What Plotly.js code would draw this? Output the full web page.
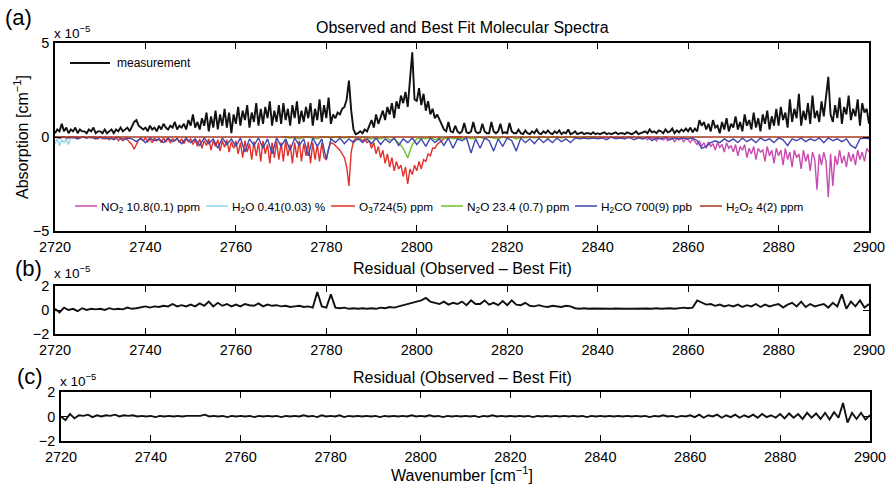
<!DOCTYPE html>
<html>
<head>
<meta charset="utf-8">
<script src="https://cdn.plot.ly/plotly-3.0.1.min.js"></script>
<style>html,body{margin:0;padding:0;background:#fff;}#chart{width:888px;height:486px;}</style>
</head>
<body>
<div id="chart"></div>
<script>
// ---- DATA (absorption in units of 1e-5 cm^-1) ----
const measStart = 2720, measStep = 0.5;
const measurement = [
 0.2,0.4,0.3,0.7,0.3,0.5,0.2,0.4,0.3,0.5,0.2,0.4,0.3,0.3,0.2,0.4,0.3,0.5,0.2,0.3,
 0.3,0.2,0.4,0.2,0.3,0.4,0.2,0.4,0.3,0.5,0.3,0.4,0.5,0.3,0.6,0.8,0.9,0.6,0.5,0.4,
 0.5,0.3,0.6,0.4,0.5,0.3,0.6,0.4,0.7,0.5,0.4,0.6,0.5,0.8,0.4,0.6,0.5,0.7,0.4,0.9,
 0.6,1.2,0.5,0.8,0.4,1.0,0.6,1.3,0.3,1.1,0.5,1.4,0.4,1.2,0.6,1.5,0.5,1.3,0.2,1.2,
 0.7,1.6,0.6,1.4,0.9,1.7,0.5,1.3,0.8,1.8,0.6,1.5,0.7,1.6,1.0,1.9,0.6,1.4,0.8,1.7,
 0.7,1.8,0.9,1.5,0.6,1.7,1.0,1.9,0.7,1.4,0.8,1.6,1.0,1.8,0.6,1.5,0.9,2.0,0.8,1.7,
 1.0,2.1,0.7,1.2,1.0,1.3,1.2,1.5,1.6,2.0,3.0,1.4,0.4,0.15,0.2,0.3,0.2,0.4,0.3,0.6,
 0.9,0.5,1.2,0.7,1.0,1.4,0.9,1.6,1.2,1.8,1.0,1.9,1.5,2.2,1.8,2.4,1.6,2.9,4.5,2.0,
 1.9,2.6,1.7,2.3,1.4,1.9,1.2,1.5,1.0,1.2,0.9,0.7,0.4,0.3,0.8,0.3,0.25,0.6,0.3,0.2,
 0.3,0.75,0.25,0.2,0.3,0.8,0.3,0.2,0.25,0.7,0.3,0.2,0.2,0.8,0.3,0.2,0.3,0.7,0.2,0.25,
 0.2,0.75,0.3,0.2,0.2,0.4,0.2,0.15,0.35,0.2,0.15,0.3,0.2,0.4,0.2,0.15,0.3,0.2,0.35,0.2,
 0.15,0.3,0.2,0.35,0.15,0.25,0.2,0.4,0.15,0.2,0.3,0.15,0.2,0.25,0.15,0.2,0.2,0.15,0.25,0.15,
 0.2,0.15,0.2,0.25,0.15,0.2,0.15,0.2,0.25,0.15,0.2,0.2,0.15,0.25,0.2,0.15,0.2,0.3,0.15,0.2,
 0.25,0.3,0.2,0.4,0.25,0.3,0.2,0.35,0.3,0.2,0.4,0.25,0.3,0.45,0.2,0.35,0.25,0.4,0.3,0.45,
 0.3,0.5,0.25,0.45,0.3,0.9,0.6,0.8,0.4,0.7,0.3,0.9,0.5,0.6,0.2,0.8,0.4,1.0,0.3,0.7,
 0.5,1.1,0.4,0.8,0.3,1.2,0.6,0.9,0.4,1.3,0.5,1.0,0.3,1.2,0.7,1.4,0.4,1.1,0.6,1.5,
 0.6,1.6,0.9,1.3,0.5,2.0,0.8,1.5,1.0,2.3,0.6,1.4,0.9,1.8,0.7,2.2,1.0,1.4,0.8,1.9,
 1.1,2.0,3.2,1.2,0.8,1.7,1.0,2.1,0.7,1.6,1.2,2.2,0.9,1.5,1.1,2.0,0.6,1.8,1.3,1.5,
 0.7
];
const no2Start = 2840, no2Step = 0.5;
const no2 = [
 -0.05,0,-0.05,0,-0.05,-0.05,0,-0.05,0,-0.05,-0.05,0,-0.1,0,-0.05,-0.05,0,-0.1,0,-0.05,
 -0.1,-0.05,-0.15,0,-0.1,-0.05,-0.2,-0.05,-0.1,-0.15,-0.05,-0.2,-0.1,-0.05,-0.25,-0.1,-0.15,-0.05,-0.25,-0.1,
 -0.15,-0.3,-0.1,-0.25,-0.4,-0.2,-0.5,-0.3,-0.6,-0.25,-0.5,-0.35,-0.7,-0.3,-0.55,-0.4,-0.8,-0.3,-0.6,-0.45,
 -0.8,-0.4,-1.0,-0.5,-0.7,-0.4,-1.1,-0.6,-0.9,-0.5,-1.2,-0.6,-0.8,-0.7,-1.3,-0.5,-1.0,-0.7,-1.4,-0.6,
 -1.0,-0.7,-1.5,-0.6,-1.2,-0.8,-1.6,-0.7,-1.1,-0.9,-1.7,-0.7,-1.3,-0.9,-1.8,-0.8,-1.2,-2.8,-0.9,-1.5,
 -0.8,-1.3,-3.2,-0.9,-2.6,-1.0,-1.5,-0.7,-1.4,-1.0,-1.6,-0.8,-1.3,-0.9,-1.5,-0.7,-1.2,-0.8,-1.3,-0.6,
 -0.8
];
const h2oStart = 2720, h2oStep = 0.5;
const h2o = [-0.35,-0.1,-0.45,-0.15,-0.3,-0.1,-0.4,-0.05,0];
const o3Start = 2720, o3Step = 0.5;
const o3 = [
 0,0,-0.05,0,0,-0.05,0,0,-0.05,0,0,-0.05,0,0,-0.05,0,-0.05,0,0,-0.1,
 0,-0.1,0,-0.05,-0.15,0,-0.1,0,-0.2,-0.05,-0.1,-0.05,-0.15,-0.25,-0.4,-0.65,-0.35,-0.15,-0.1,-0.2,
 -0.05,-0.25,-0.1,-0.3,-0.05,-0.2,-0.1,-0.3,-0.05,-0.25,-0.1,-0.3,-0.1,-0.2,-0.05,-0.3,-0.1,-0.35,-0.1,-0.25,
 -0.1,-0.4,-0.15,-0.5,-0.1,-0.6,-0.2,-0.45,-0.1,-0.7,-0.2,-0.5,-0.15,-0.75,-0.2,-0.55,-0.15,-0.8,-0.25,-0.6,
 -0.2,-0.9,-0.3,-1.1,-0.2,-0.8,-0.35,-1.2,-0.25,-1.0,-0.3,-1.3,-0.2,-0.9,-0.4,-1.4,-0.3,-1.1,-0.25,-1.2,
 -0.3,-1.3,-0.2,-1.0,-0.4,-1.4,-0.3,-1.1,-0.2,-1.3,-0.35,-1.0,-0.25,-1.4,-0.3,-1.2,-0.4,-1.3,-0.3,-1.1,
 -1.2,-0.6,-0.3,-0.35,-0.45,-0.55,-0.7,-0.9,-1.1,-1.6,-2.6,-0.8,-0.2,-0.1,-0.15,-0.1,-0.2,-0.1,-0.3,-0.2,
 -0.6,-0.3,-0.9,-0.5,-1.1,-0.7,-1.4,-0.9,-1.6,-1.1,-1.8,-1.3,-1.7,-1.5,-2.1,-1.6,-2.5,-1.7,-2.0,-1.5,
 -1.8,-1.3,-1.7,-1.2,-1.3,-0.9,-1.0,-0.6,-0.6,-0.4,-0.3,-0.15,-0.1,-0.05,-0.05,0,0,0,0,0,
 0
];
const n2oStart = 2770, n2oStep = 1;
const n2o = [
 0,0,-0.05,0,-0.1,0,0,-0.05,-0.1,0,
 0,-0.05,0,0,-0.05,0,0,-0.1,0,-0.05,
 -0.1,-0.05,-0.1,0,-0.15,-0.1,-0.3,-0.6,-1.1,-0.4,
 -0.1,-0.05,-0.1,0,-0.15,-0.05,-0.1,0,-0.1,-0.05,
 -0.1,0,-0.1,-0.05,0,-0.1,0,-0.05,-0.1,0,
 -0.05,0,-0.1,0,-0.05,0,-0.05,0,0,-0.05,
 0,0,-0.05,0,0,0,-0.05,0,0,0,
 0
];
const h2coStart = 2720, h2coStep = 1;
const h2co = [
 0,-0.05,0,-0.05,0,-0.1,0,-0.05,0,-0.1,
 0,-0.1,-0.05,-0.15,0,-0.2,-0.05,-0.1,-0.25,-0.05,
 -0.3,-0.05,-0.2,-0.1,-0.3,-0.05,-0.25,-0.1,-0.35,-0.05,
 -0.3,-0.1,-0.45,-0.05,-0.35,-0.1,-0.6,-0.05,-0.4,-0.1,
 -0.5,-0.05,-0.8,-0.1,-0.45,-0.05,-0.6,-0.1,-0.9,-0.05,
 -0.5,-0.1,-0.7,-0.05,-0.45,-0.1,-1.0,-0.05,-0.5,-0.1,
 -1.2,-0.1,-0.3,-0.05,-0.35,-0.1,-0.3,-0.05,-0.3,-0.1,
 -0.35,-0.05,-0.4,-0.1,-0.3,-0.05,-0.45,-0.1,-0.3,-0.05,
 -0.4,-0.1,-0.5,-0.05,-0.3,-0.1,-0.45,-0.05,-0.6,-0.1,
 -0.2,-0.05,-0.85,-0.1,-0.6,-0.05,-0.2,-0.75,-0.1,-0.5,
 -0.05,-0.2,-0.75,-0.05,-0.3,-0.1,-0.35,-0.05,-0.3,-0.1,
 -0.3,-0.05,-0.25,-0.1,-0.3,-0.05,-0.1,-0.05,-0.1,-0.05,
 -0.1,-0.05,-0.15,0,-0.1,-0.05,-0.1,0,-0.15,-0.05,
 -0.1,0,-0.2,-0.05,-0.1,0,-0.15,-0.05,-0.1,-0.05,
 -0.1,-0.05,-0.2,-0.6,-0.5,-0.3,-0.2,-0.3,-0.1,-0.25,
 -0.1,-0.3,-0.05,-0.25,-0.1,-0.3,-0.05,-0.2,-0.1,-0.3,
 -0.05,-0.15,-0.45,-0.1,-0.2,-0.05,-0.25,-0.1,-0.2,-0.05,
 -0.3,-0.05,-0.2,-0.1,-0.25,-0.1,-0.45,-0.6,-0.1,-0.05,
 -0.1
];
const h2o2Start = 2720, h2o2Step = 45;
const h2o2 = [0,0,0,0,0];
const resStart = 2720, resStep = 1;
const residualB = [
 0.1,-0.2,0.2,0,0.1,-0.1,0.15,0,0.1,0.05,
 0.1,0,0.15,0.05,0.1,0.05,0.2,0.1,0.15,0.2,
 0.3,0.2,0.3,0.25,0.35,0.3,0.5,0.3,0.4,0.3,
 0.45,0.3,0.55,0.35,0.7,0.3,0.6,0.35,0.5,0.3,
 0.45,0.3,0.5,0.4,0.35,0.55,0.3,0.45,0.35,0.4,
 0.3,0.35,0.25,0.3,0.35,0.25,0.3,0.2,1.5,0.3,
 0.2,1.3,0.2,0.15,0.2,0.1,0.15,0.1,0.15,0.1,
 0.15,0.1,0.2,0.15,0.25,0.2,0.3,0.4,0.5,0.6,
 0.7,0.8,1.0,0.7,0.6,0.5,0.7,0.45,0.6,0.5,
 0.7,0.4,0.8,0.5,0.5,0.8,0.45,0.6,0.4,0.75,
 0.4,0.8,0.45,0.4,0.6,0.35,0.3,0.4,0.3,0.25,
 0.35,0.3,0.25,0.35,0.3,0.15,0.1,0.15,0.1,0.12,
 0.1,0.12,0.08,0.1,0.12,0.08,0.1,0.1,0.12,0.08,
 0.1,0.12,0.1,0.15,0.1,0.12,0.15,0.1,0.15,0.2,
 0.15,0.2,0.8,0.6,0.45,0.5,0.35,0.45,0.3,0.4,
 0.3,0.45,0.25,0.4,0.3,0.5,0.25,0.45,0.3,0.4,
 0.5,0.2,0.45,0.6,0.3,0.7,0.25,0.5,0.3,0.4,
 0.5,0.2,0.6,0.3,1.3,0.1,0.7,0.3,0.8,0.2,
 0.5
];
const residualC = [
 0,-0.3,0.2,-0.15,0.1,0.05,0.15,-0.05,0.1,0,
 0.1,0.05,0.15,0,0.1,0.05,0.1,0,0.05,0,
 0.05,-0.05,0.05,0,0.05,0,0.05,0,0.05,0.05,
 0,0.05,0.15,0,0.05,0,0.05,-0.05,0.05,0,
 0.05,0,0.05,-0.05,0.05,0,0.05,0,0.05,-0.05,
 0.05,0,0.05,0,0.1,0,0.05,-0.05,0.1,0,
 0.05,0,0.1,-0.05,0.05,0,0.05,0,0.05,0,
 0.05,-0.05,0.05,0,0.05,0,0.05,0,0.1,0,
 0.05,0,0.1,0,0.05,-0.05,0.05,0,0.05,0,
 0.05,0,0.05,-0.05,0.05,0,0.1,0,0.05,0,
 0.05,0,0.05,0,0.05,-0.05,0.05,0,0.05,0,
 0.05,0,0.05,0,0.05,0,0.05,-0.05,0.05,0,
 0.05,0,0.05,0,0.05,0,0.05,0,0.05,0,
 0.05,-0.05,0.05,0,0.1,0,0.05,-0.05,0.05,0,
 0.1,-0.05,0.15,-0.1,0.1,0,0.15,-0.1,0.1,-0.05,
 0.15,-0.1,0.1,-0.05,0.15,-0.1,0.2,-0.05,0.1,-0.1,
 0.2,-0.15,0.25,-0.1,0.2,-0.2,0.3,-0.1,0.25,-0.2,
 0.3,-0.25,0.35,-0.1,1.1,-0.5,0.3,-0.2,0.3,-0.25,
 0.1
];
const xTicks = [2720,2740,2760,2780,2800,2820,2840,2860,2880,2900];
const legendLabels = ['NO<sub>2</sub> 10.8(0.1) ppm','H<sub>2</sub>O 0.41(0.03) %','O<sub>3</sub>724(5) ppm','N<sub>2</sub>O 23.4 (0.7) ppm','H<sub>2</sub>CO 700(9) ppb','H<sub>2</sub>O<sub>2</sub> 4(2) ppm'];

// ---- styles ----
const colors = {meas:'#111111', no2:'#c94bb0', h2o:'#8fd6e6', o3:'#e2302a', n2o:'#6cbf2a', h2co:'#3d48b0', h2o2:'#a9391f'};
const W = 888, H = 486;
const FONT = 'Liberation Sans, Arial, Helvetica, sans-serif';
const grid = (s, d, n) => Array.from({length:n}, (_, i) => s + i*d);
const px = v => v / W;
const py = v => 1 - v / H;

const tr = (x0, dx, y, color, width, xa, ya) => ({
  type:'scatter', mode:'lines', x:grid(x0, dx, y.length), y:y,
  line:{color:color, width:width}, xaxis:xa, yaxis:ya, showlegend:false, hoverinfo:'skip'
});

const data = [
  tr(measStart, measStep, measurement, colors.meas, 1.9, 'x', 'y'),
  tr(no2Start, no2Step, no2, colors.no2, 1.4, 'x', 'y'),
  tr(h2oStart, h2oStep, h2o, colors.h2o, 1.4, 'x', 'y'),
  tr(o3Start, o3Step, o3, colors.o3, 1.4, 'x', 'y'),
  tr(n2oStart, n2oStep, n2o, colors.n2o, 1.4, 'x', 'y'),
  tr(h2coStart, h2coStep, h2co, colors.h2co, 1.4, 'x', 'y'),
  tr(h2o2Start, h2o2Step, h2o2, colors.h2o2, 1.7, 'x', 'y'),
  tr(resStart, resStep, residualB, colors.meas, 1.9, 'x2', 'y2'),
  tr(resStart, resStep, residualC, colors.meas, 1.9, 'x3', 'y3')
];

const axBase = {
  showline:true, linewidth:1.7, linecolor:'#000', mirror:'allticks',
  ticks:'inside', ticklen:6, tickwidth:1.4, tickcolor:'#000',
  showgrid:false, zeroline:false, fixedrange:true,
  tickfont:{family:FONT, size:14.5, color:'#000'}
};
const xAx = (dom, anchor) => Object.assign({}, axBase, {
  domain:dom, anchor:anchor, range:[2720,2900], tickvals:xTicks, ticktext:xTicks.map(String), ticklabelstandoff:2
});
const yAx = (dom, anchor, lim) => Object.assign({}, axBase, {
  domain:dom, anchor:anchor, range:[-lim, lim], tickvals:[-lim,0,lim], ticktext:['\u2212'+lim,'0',String(lim)], ticklabelstandoff:1
});

const ann = (text, x, y, size, xanchor, extra) => Object.assign({
  text:text, xref:'paper', yref:'paper', x:px(x), y:py(y), showarrow:false,
  xanchor:xanchor||'left', yanchor:'middle', font:{family:FONT, size:size, color:'#000'}
}, extra||{});

const annotations = [
  ann('(a)', 3, 18, 22),
  ann('(b)', 13, 268, 22),
  ann('(c)', 15, 376, 22),
  ann('x 10<sup>\u22125</sup>', 52, 32, 13.5),
  ann('x 10<sup>\u22125</sup>', 52, 272, 13.5),
  ann('x 10<sup>\u22125</sup>', 58, 380, 13.5),
  ann('Observed and Best Fit Molecular Spectra', 462, 27, 16, 'center'),
  ann('Residual (Observed \u2013 Best Fit)', 462, 268, 16, 'center'),
  ann('Residual (Observed \u2013 Best Fit)', 462, 377, 16, 'center'),
  ann('Wavenumber [cm<sup>\u22121</sup>]', 462, 474, 16, 'center'),
  ann('Absorption [cm<sup>\u22121</sup>]', 21, 137, 16, 'center', {textangle:-90}),
  ann('measurement', 115, 63, 12)
];
const shapes = [
  {type:'line', xref:'paper', yref:'paper', x0:px(70), x1:px(110), y0:py(63), y1:py(63), line:{color:colors.meas, width:1.8}}
];
const legX = [75, 206, 331, 441, 575, 700];
const legC = [colors.no2, colors.h2o, colors.o3, colors.n2o, colors.h2co, colors.h2o2];
const legW = [22, 22, 24, 22, 22, 22];
legendLabels.forEach((t, i) => {
  shapes.push({type:'line', xref:'paper', yref:'paper', x0:px(legX[i]), x1:px(legX[i]+legW[i]), y0:py(206), y1:py(206), line:{color:legC[i], width:1.5}});
  annotations.push(ann(t, legX[i]+legW[i]+2, 207, 11.8));
});

const layout = {
  width:W, height:H, margin:{l:0, r:0, t:0, b:0},
  paper_bgcolor:'#fff', plot_bgcolor:'#fff', showlegend:false,
  xaxis: xAx([px(55), px(869)], 'y'),
  yaxis: yAx([py(231), py(43)], 'x', 5),
  xaxis2: xAx([px(55), px(869)], 'y2'),
  yaxis2: yAx([py(334), py(286)], 'x2', 2),
  xaxis3: xAx([px(61), px(870)], 'y3'),
  yaxis3: yAx([py(441), py(392)], 'x3', 2),
  annotations:annotations, shapes:shapes
};

Plotly.newPlot('chart', data, layout, {displayModeBar:false});
</script>
</body>
</html>
